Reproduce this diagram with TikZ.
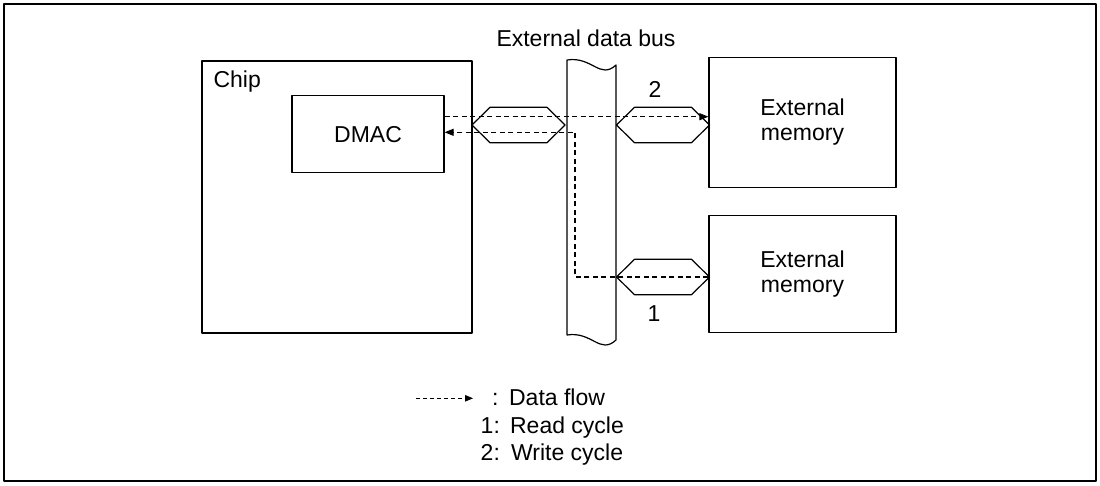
\documentclass[tikz,border=0pt]{standalone}
\usepackage{fontspec}
\setmainfont{Liberation Sans}
\usetikzlibrary{arrows.meta}
\begin{document}
\begin{tikzpicture}[x=1pt,y=-1pt,line join=round,line width=1.2pt,
	font=\fontsize{23}{25}\selectfont,
	every node/.style={inner sep=0pt},
	box/.style={draw,line width=1.2pt,align=center},
	flow/.style={line width=1.1pt,dash pattern=on 5pt off 3.5pt,-{Triangle[length=9pt,width=7pt]}}]
	\useasboundingbox (0,0) rectangle (1100,485);
	\draw[line width=1.5pt] (4,4) rectangle (1096,481);
	\node[box,minimum width=270pt,minimum height=272pt] (chip) at (337,197) {};
	\node[anchor=base west] (chiplbl) at (213,87) {Chip};
	\node[box,minimum width=152pt,minimum height=77pt] (dmac) at (368,134.2) {DMAC};
	\node[box,minimum width=187pt,minimum height=130pt] (mem1) at (802.5,122.3) {External\\memory};
	\node[box,minimum width=187pt,minimum height=117pt] (mem2) at (802.5,274.2) {External\\memory};
	\draw (567,60) .. controls (592,56) and (600,80) .. (616,65) -- (616,340)
		.. controls (600,355) and (592,331) .. (567,335) -- cycle;
	\node[anchor=base] (buslbl) at (586,46) {External data bus};
	\foreach \a/\y in {472/125,616.5/125,616.5/277}
		\draw (\a,\y) -- ++(18,-17.7) -- ++(57,0) -- ++(18,17.7) -- ++(-18,17.7) -- ++(-57,0) -- cycle;
	\node[anchor=base] (wlbl) at (655,97.7) {2};
	\node[anchor=base] (rlbl) at (654,321) {1};
	\path
	(0,116.7) coordinate (wy)
	(0,132.3) coordinate (ry)
	(575,277) coordinate (rc)
	(416,398.3) coordinate (lgA)
	(473,398.3) coordinate (lgB)
	;
	\draw[flow] (dmac.east |- wy) -- (mem1.west |- wy);
	\draw[flow] (mem2.west |- rc) -- (rc) |- (dmac.east |- ry);
	\draw[flow,line width=0.8pt,dash pattern=on 4pt off 3pt,-{Triangle[length=8pt,width=6.5pt]}] (lgA) -- (lgB);
	\node[anchor=base east] (c0) at (499,405) {:};
	\node[anchor=base west] (t0) at (508.5,405) {Data flow};
	\node[anchor=base east] (c1) at (500.5,433.3) {1:};
	\node[anchor=base west] (t1) at (509.5,433.3) {Read cycle};
	\node[anchor=base east] (c2) at (500.5,460.7) {2:};
	\node[anchor=base west] (t2) at (510.5,460.7) {Write cycle};
\end{tikzpicture}
\end{document}
